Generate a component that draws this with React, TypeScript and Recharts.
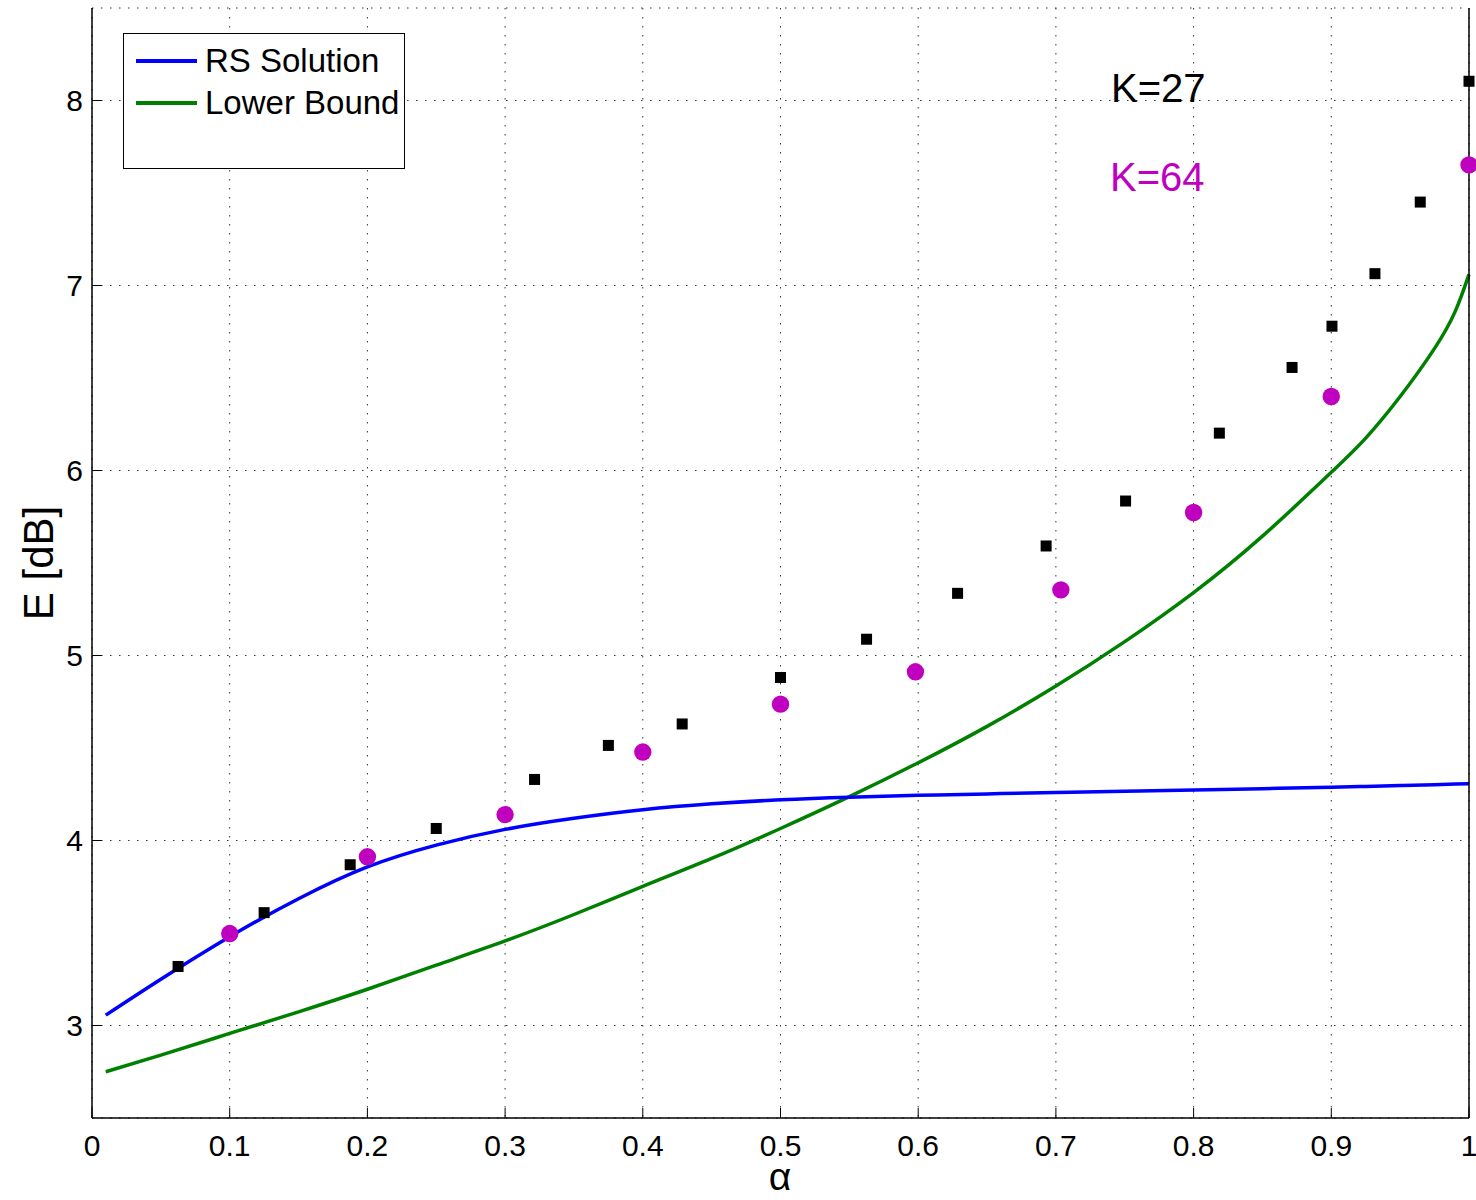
import React from "react"
import {
  ComposedChart,
  Line,
  Scatter,
  XAxis,
  YAxis,
  CartesianGrid,
  Legend,
  Customized,
} from "recharts"

// curve samples (alpha, E in dB)
const alphaGrid = [0.01, 0.05, 0.1, 0.15, 0.2, 0.25, 0.3, 0.35, 0.4, 0.45, 0.5, 0.55, 0.6, 0.65, 0.7, 0.75, 0.8, 0.85, 0.9, 0.925, 0.95, 0.975, 0.99, 1.0]
const rsSolution = [3.056, 3.25, 3.48, 3.685, 3.857, 3.975, 4.06, 4.12, 4.166, 4.198, 4.22, 4.234, 4.244, 4.252, 4.259, 4.266, 4.273, 4.28, 4.288, 4.292, 4.297, 4.302, 4.305, 4.307]
const lowerBound = [2.75, 2.84, 2.957, 3.074, 3.196, 3.326, 3.457, 3.6, 3.752, 3.903, 4.065, 4.237, 4.42, 4.617, 4.835, 5.075, 5.34, 5.645, 5.99, 6.175, 6.4, 6.66, 6.86, 7.06]

// simulated points, K=27 (squares)
const k27Alpha = [0.0625, 0.125, 0.1875, 0.25, 0.3214, 0.375, 0.4286, 0.5, 0.5625, 0.6286, 0.6929, 0.7506, 0.8187, 0.8715, 0.9005, 0.9317, 0.9646, 1.0]
const k27E = [3.319, 3.61, 3.869, 4.065, 4.33, 4.514, 4.63, 4.881, 5.088, 5.336, 5.592, 5.835, 6.202, 6.557, 6.78, 7.064, 7.451, 8.104]

// simulated points, K=64 (circles)
const k64Alpha = [0.1, 0.2, 0.3, 0.4, 0.5, 0.598, 0.7036, 0.8, 0.9, 1.0]
const k64E = [3.497, 3.912, 4.14, 4.478, 4.737, 4.912, 5.355, 5.773, 6.4, 7.652]

const xTicks = [0, 0.1, 0.2, 0.3, 0.4, 0.5, 0.6, 0.7, 0.8, 0.9, 1]
const yTicks = [3, 4, 5, 6, 7, 8]

const seriesNames = ["RS Solution", "Lower Bound"]
const seriesColors = ["#0000FF", "#008000"]

const FONT = "'Liberation Sans', Arial, Helvetica, sans-serif"

const rsData = alphaGrid.map((a, i) => ({ a, e: rsSolution[i] }))
const lbData = alphaGrid.map((a, i) => ({ a, e: lowerBound[i] }))
const k27Data = k27Alpha.map((a, i) => ({ a, e: k27E[i] }))
const k64Data = k64Alpha.map((a, i) => ({ a, e: k64E[i] }))

const BottomTick = (props: any) => {
  const { x, y, payload } = props
  return (
    <g>
      <line x1={x} x2={x} y1={y} y2={y - 10} stroke="#000" strokeWidth={1} />
      <text x={x} y={y + 38} textAnchor="middle" fontSize={30} fontFamily={FONT} fill="#000">
        {String(payload.value)}
      </text>
    </g>
  )
}

const TopTick = (props: any) => {
  const { x, y } = props
  return <line x1={x} x2={x} y1={y} y2={y + 10} stroke="#000" strokeWidth={1} />
}

const LeftTick = (props: any) => {
  const { x, y, payload } = props
  return (
    <g>
      <line x1={x} x2={x + 10} y1={y} y2={y} stroke="#000" strokeWidth={1} />
      <text x={x - 9} y={y} dy="0.36em" textAnchor="end" fontSize={30} fontFamily={FONT} fill="#000">
        {String(payload.value)}
      </text>
    </g>
  )
}

const RightTick = (props: any) => {
  const { x, y } = props
  return <line x1={x} x2={x - 10} y1={y} y2={y} stroke="#000" strokeWidth={1} />
}

const SquareMark = (props: any) => {
  const { cx, cy } = props
  return <rect x={cx - 5.5} y={cy - 5.5} width={11} height={11} fill="#000" />
}

const CircleMark = (props: any) => {
  const { cx, cy } = props
  return <circle cx={cx} cy={cy} r={8.7} fill="#BF00BF" />
}

const LegendBox = () => (
  <div
    style={{
      width: 282,
      height: 136,
      boxSizing: "border-box",
      border: "1.5px solid #000",
      background: "#fff",
      position: "relative",
      fontFamily: FONT,
      fontSize: 33,
      color: "#000",
    }}
  >
    {seriesNames.map((name, i) => (
      <div key={name} style={{ position: "absolute", left: 12, top: 6 + i * 42, height: 42, display: "flex", alignItems: "center" }}>
        <div style={{ width: 61, height: 3.5, background: seriesColors[i], marginRight: 8 }} />
        <span style={{ lineHeight: "42px", whiteSpace: "nowrap" }}>{name}</span>
      </div>
    ))}
  </div>
)

const Annotations = () => (
  <g fontFamily={FONT}>
    <text x={1111} y={102} fontSize={40} fill="#000">K=27</text>
    <text x={1110} y={191} fontSize={40} fill="#BF00BF">K=64</text>
    <text x={38} y={563} transform="rotate(-90 38 563)" textAnchor="middle" dominantBaseline="central" fontSize={42} fill="#000">
      E [dB]
    </text>
    <text x={780} y={1190} textAnchor="middle" fontSize={39} fill="#000">α</text>
  </g>
)

export default function App() {
  return (
    <div style={{ position: "absolute", left: 0, top: 0, width: 1476, height: 1200, background: "#fff" }}>
      <ComposedChart width={1476} height={1200} margin={{ top: 8, right: 0, bottom: 0, left: 0 }}>
        <CartesianGrid xAxisId="b" yAxisId="l" stroke="#333" strokeDasharray="1.5 7.5" />
        <XAxis
          xAxisId="b"
          dataKey="a"
          type="number"
          domain={[0, 1]}
          ticks={xTicks}
          interval={0}
          height={82}
          tickSize={0}
          tickMargin={0}
          tickLine={false}
          tick={<BottomTick />}
          axisLine={{ stroke: "#000", strokeWidth: 1.5 }}
        />
        <XAxis
          xAxisId="t"
          orientation="top"
          dataKey="a"
          type="number"
          domain={[0, 1]}
          ticks={xTicks}
          interval={0}
          height={0}
          tickSize={0}
          tickMargin={0}
          tickLine={false}
          tick={<TopTick />}
          axisLine={{ stroke: "#000", strokeWidth: 1.5 }}
        />
        <YAxis
          yAxisId="l"
          dataKey="e"
          type="number"
          domain={[2.5, 8.5]}
          allowDataOverflow
          ticks={yTicks}
          interval={0}
          width={92}
          tickSize={0}
          tickMargin={0}
          tickLine={false}
          tick={<LeftTick />}
          axisLine={{ stroke: "#000", strokeWidth: 1.5 }}
        />
        <YAxis
          yAxisId="r"
          orientation="right"
          type="number"
          domain={[2.5, 8.5]}
          ticks={yTicks}
          interval={0}
          width={7}
          tickSize={0}
          tickMargin={0}
          tickLine={false}
          tick={<RightTick />}
          axisLine={{ stroke: "#000", strokeWidth: 1.5 }}
        />
        <Line
          xAxisId="b"
          yAxisId="l"
          data={lbData}
          dataKey="e"
          type="natural"
          stroke={seriesColors[1]}
          strokeWidth={3.5}
          dot={false}
          isAnimationActive={false}
        />
        <Line
          xAxisId="b"
          yAxisId="l"
          data={rsData}
          dataKey="e"
          type="natural"
          stroke={seriesColors[0]}
          strokeWidth={3.5}
          dot={false}
          isAnimationActive={false}
        />
        <Scatter xAxisId="b" yAxisId="l" data={k27Data} dataKey="e" shape={<SquareMark />} isAnimationActive={false} />
        <Scatter xAxisId="b" yAxisId="l" data={k64Data} dataKey="e" shape={<CircleMark />} isAnimationActive={false} />
        <Customized component={<Annotations />} />
        <Legend
          layout="vertical"
          align="center"
          verticalAlign="middle"
          content={<LegendBox />}
          wrapperStyle={{ left: 123, top: 33, width: 282, height: 136 }}
        />
      </ComposedChart>
    </div>
  )
}
